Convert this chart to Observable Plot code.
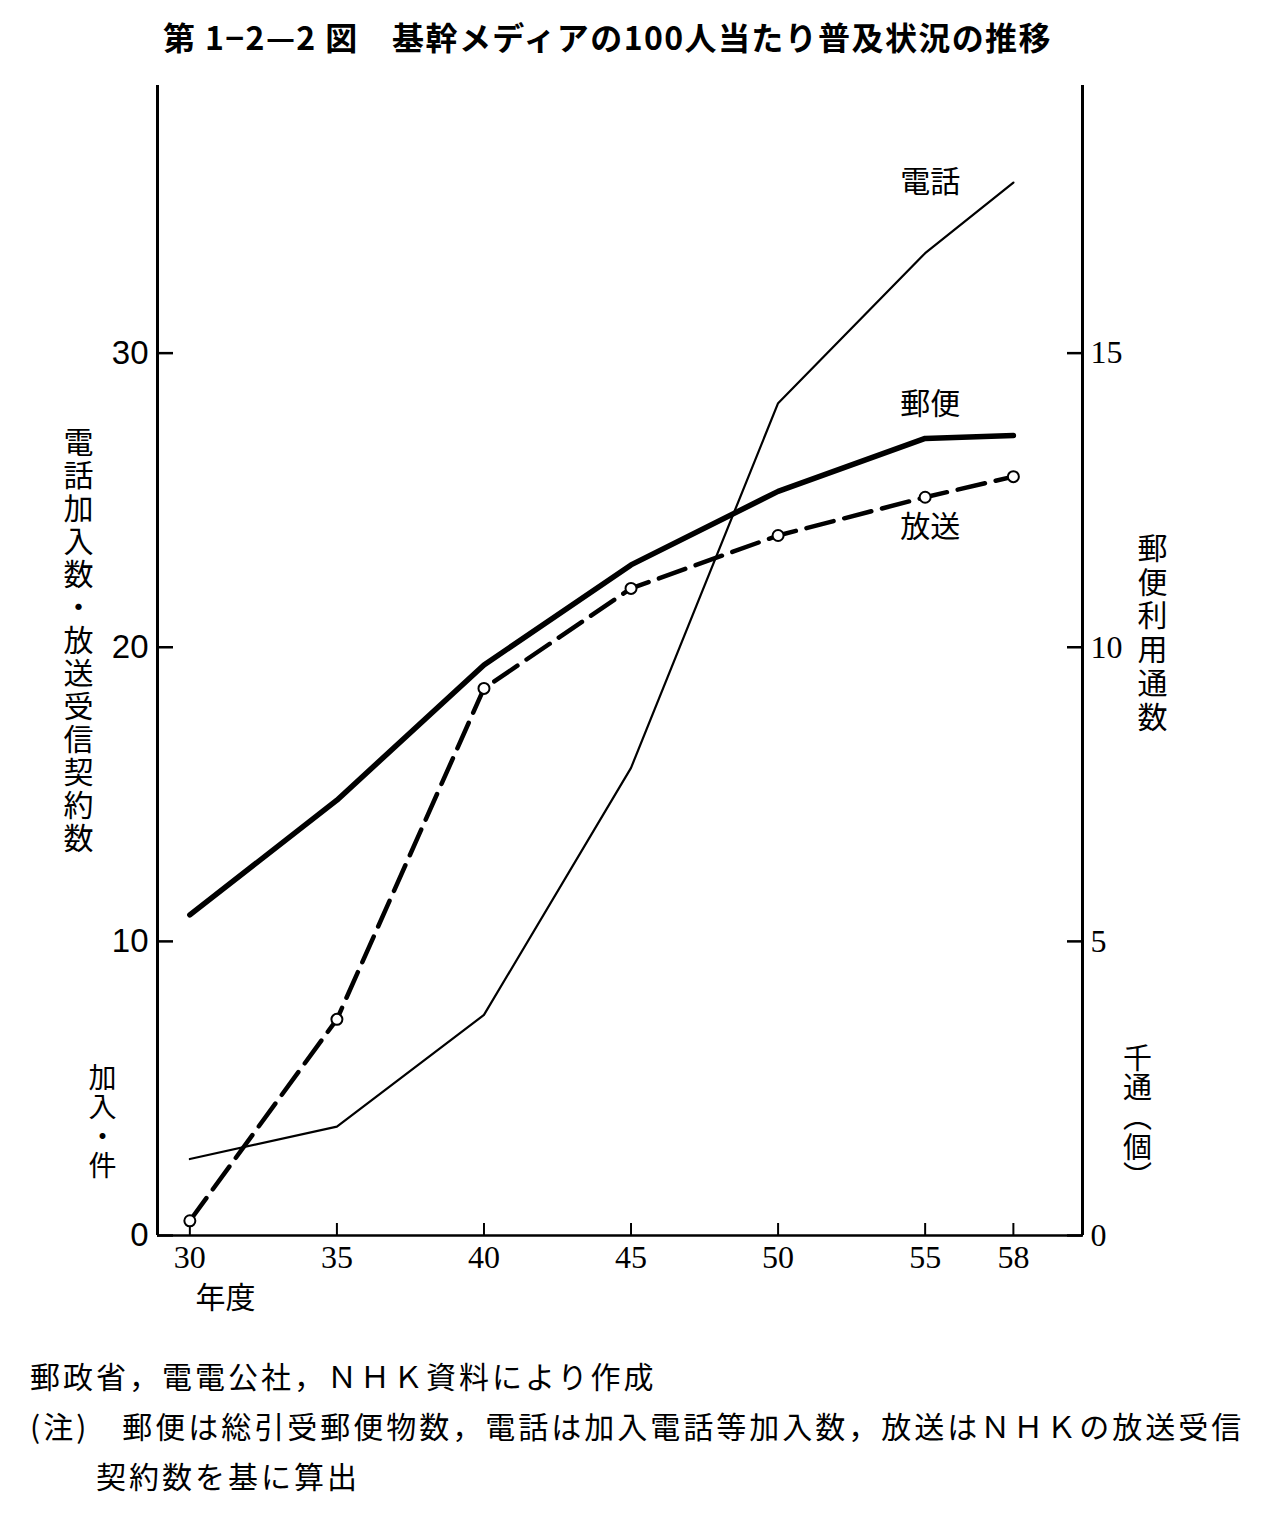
<!DOCTYPE html>
<html>
<head>
<meta charset="utf-8">
<script src="https://cdn.jsdelivr.net/npm/d3@7"></script>
<script src="https://cdn.jsdelivr.net/npm/@observablehq/plot@0.6"></script>
<style>
  html, body { margin: 0; padding: 0; background: #fff; }
  body { width: 1269px; height: 1521px; position: relative; font-family: "Noto Sans CJK JP", sans-serif; color: #000; }
  #title { position: absolute; left: 163px; top: 13px; font-size: 32px; font-weight: 700; white-space: pre; letter-spacing: 1.4px; }
  #chart { position: absolute; left: 0; top: 70px; }
  #notes { position: absolute; left: 30px; top: 1350px; font-size: 30px; line-height: 50px; letter-spacing: 3px; white-space: pre; }
</style>
</head>
<body>
<div id="title"></div>
<div id="chart"></div>
<div id="notes"></div>
<script>
// ---- data ----
const years = [30, 35, 40, 45, 50, 55, 58];
const telephone = [2.6, 3.7, 7.5, 15.9, 28.3, 33.4, 35.8];      // 電話 (left axis)
const broadcast = [0.5, 7.35, 18.6, 22.0, 23.8, 25.1, 25.8];     // 放送 (left axis)
const postal = [5.45, 7.4, 9.7, 11.4, 12.65, 13.55, 13.6];       // 郵便 (right axis, 千通)
const leftTicks = [0, 10, 20, 30];
const rightTicks = [0, 5, 10, 15];
const seriesNames = ["電話", "郵便", "放送"];

const titleText = "第 1−2—2 図　基幹メディアの100人当たり普及状況の推移";
const leftLabel = "電話加入数・放送受信契約数";
const leftUnit = "加入・件";
const rightLabel = "郵便利用通数";
const rightUnit = ["千", "通", "︵", "個", "︶"];
const xLabel = "年度";
const notes = [
  "郵政省，電電公社，ＮＨＫ資料により作成",
  "(注)　郵便は総引受郵便物数，電話は加入電話等加入数，放送はＮＨＫの放送受信",
  "　　契約数を基に算出"
];

// ---- scales ----
const xDomain = [28.9, 60.35];
const yDomain = [0, 39.1];
const ratio = leftTicks[3] / rightTicks[3]; // right axis value * ratio = left axis value

const tel = years.map((y, i) => ({year: y, v: telephone[i]}));
const bro = years.map((y, i) => ({year: y, v: broadcast[i]}));
const pos = years.map((y, i) => ({year: y, v: postal[i] * ratio}));

const labelOffsets = [0, -31, 51];
const lastVals = [telephone[6], postal[6] * ratio, broadcast[6]];

const vert = s => Array.from(s).join("\n");
const cjk = "Noto Sans CJK JP";
const serif = "Liberation Serif, DejaVu Serif, serif";
const narrow = "Liberation Sans Narrow, Liberation Sans, sans-serif";
const vtext = {textAnchor: "middle", lineAnchor: "middle", fontFamily: cjk};

const seriesLabels = seriesNames.map((name, i) =>
  Plot.text([{name, year: years[5], v: lastVals[i]}], {x: "year", y: "v", text: "name", dx: 5, dy: labelOffsets[i], fontSize: 30, fontFamily: cjk}));

const chart = Plot.plot({
  width: 1269, height: 1250, marginLeft: 157, marginRight: 187, marginTop: 15, marginBottom: 85,
  style: {background: "#fff", color: "#000"},
  x: {domain: xDomain, axis: null},
  y: {domain: yDomain, axis: null},
  marks: [
    Plot.ruleX(xDomain, {stroke: "#000", strokeWidth: 3}),
    Plot.ruleY([yDomain[0]], {stroke: "#000", strokeWidth: 2.5}),
    Plot.axisX({anchor: "bottom", label: null, ticks: years, tickFormat: d => String(d), tickSize: -12, tickPadding: 22,
      fontSize: 32, fontFamily: serif, strokeWidth: 2}),
    Plot.axisY({anchor: "left", label: null, ticks: leftTicks, tickFormat: d => String(d), tickSize: -16, tickPadding: 25,
      fontSize: 33, fontFamily: narrow, strokeWidth: 2.5}),
    Plot.axisY({anchor: "right", label: null, ticks: rightTicks.map(d => d * ratio), tickFormat: d => String(d / ratio),
      tickSize: -16, tickPadding: 24, fontSize: 32, fontFamily: serif, strokeWidth: 2.5}),
    Plot.line(tel, {x: "year", y: "v", stroke: "#000", strokeWidth: 2.2, strokeLinejoin: "round"}),
    Plot.line(pos, {x: "year", y: "v", stroke: "#000", strokeWidth: 5.5, strokeLinejoin: "round"}),
    Plot.line(bro, {x: "year", y: "v", stroke: "#000", strokeWidth: 4.5, strokeDasharray: "28,11"}),
    Plot.dot(bro, {x: "year", y: "v", r: 5.5, fill: "#fff", stroke: "#000", strokeWidth: 2}),
    ...seriesLabels,
    Plot.text([vert(leftLabel)], {...vtext, frameAnchor: "left", dx: -79, dy: -20, fontSize: 30, lineHeight: 1.1}),
    Plot.text([vert(leftUnit)], {...vtext, frameAnchor: "bottom-left", dx: -55, dy: -113, fontSize: 28, lineHeight: 1.05}),
    Plot.text([vert(rightLabel)], {...vtext, frameAnchor: "right", dx: 70, dy: -28, fontSize: 30, lineHeight: 1.13}),
    Plot.text([rightUnit.join("\n")], {...vtext, frameAnchor: "bottom-right", dx: 55, dy: -117, fontSize: 29, lineHeight: 1.02}),
    Plot.text([xLabel], {...vtext, frameAnchor: "bottom-left", dx: 68, dy: 63, fontSize: 30})
  ]
});

document.getElementById("chart").appendChild(chart);
document.getElementById("title").textContent = titleText;
document.getElementById("notes").textContent = notes.join("\n");
</script>
</body>
</html>
